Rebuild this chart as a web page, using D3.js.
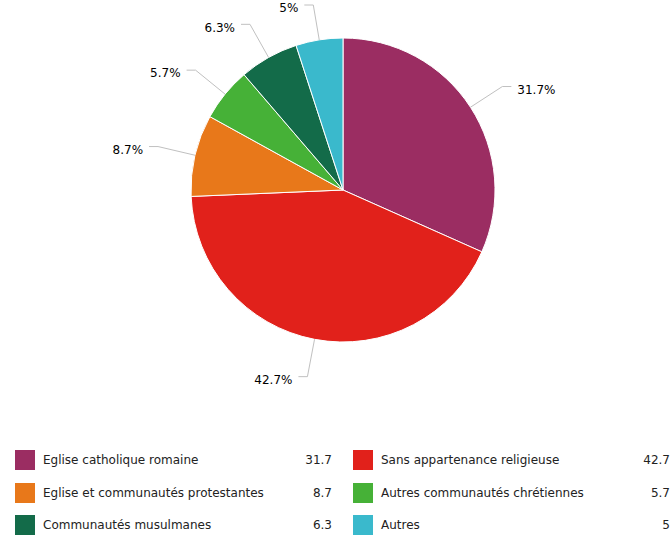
<!DOCTYPE html>
<html>
<head>
<meta charset="utf-8">
<script src="https://cdn.jsdelivr.net/npm/d3@7"></script>
<style>
  body { margin: 0; background: #fff; }
  svg { display: block; font-family: "DejaVu Sans", Verdana, sans-serif; }
</style>
</head>
<body>
<svg id="chart" width="672" height="544"></svg>
<script>
// Data
const categories = [
    "Eglise catholique romaine",
    "Sans appartenance religieuse",
    "Eglise et communautés protestantes",
    "Autres communautés chrétiennes",
    "Communautés musulmanes",
    "Autres"
];
const values = [31.7, 42.7, 8.7, 5.7, 6.3, 5];
const colors = ["#9b2d62", "#e1211b", "#e8781a", "#46b137", "#136b49", "#3ab9cc"];

// Legend order (two columns, row by row)
const legendOrder = [0, 1, 2, 3, 4, 5];

const width = 672;
const cx = 343, cy = 190, radius = 152;

const svg = d3.select("#chart");

// Pie layout: clockwise from 12 o'clock, in data order.
const pie = d3.pie().sort(null).value(d => d.value);
const data = categories.map((c, i) => ({ name: c, value: values[i], color: colors[i] }));
const arcs = pie(data);

const arc = d3.arc().innerRadius(0).outerRadius(radius);

const g = svg.append("g").attr("transform", `translate(${cx},${cy})`);

g.selectAll("path")
    .data(arcs)
    .enter().append("path")
    .attr("d", arc)
    .attr("fill", d => d.data.color)
    .attr("stroke", "#fff")
    .attr("stroke-width", 1)
    .attr("stroke-linejoin", "round");

// Labels with connectors, placed outside the pie.
const labelDist = radius + 38;
arcs.forEach(d => {
    const a = (d.startAngle + d.endAngle) / 2;
    const side = Math.sin(a) >= 0 ? 1 : -1;
    const ex = Math.sin(a) * radius, ey = -Math.cos(a) * radius;
    const ax = Math.sin(a) * labelDist;
    // keep the label inside the top edge of the svg
    const ay = Math.max(-Math.cos(a) * labelDist, -cy + 5);
    const endX = ax + side * 9;

    g.append("path")
        .attr("d", `M${ex},${ey}L${ax},${ay}L${endX},${ay}`)
        .attr("fill", "none")
        .attr("stroke", "#c0c0c0")
        .attr("stroke-width", 1);

    g.append("text")
        .attr("x", ax + side * 15)
        .attr("y", ay)
        .attr("dy", "0.6em")
        .attr("text-anchor", side > 0 ? "start" : "end")
        .style("font-size", "12px")
        .style("fill", "#000")
        .text(`${d.data.value}%`);
});

// Legend
const colX = [15, 353];
const valX = [332, 670];
const rowY = [450, 483, 515];

const legend = svg.append("g");
legendOrder.forEach((idx, k) => {
    const col = k % 2, row = Math.floor(k / 2);
    const item = legend.append("g").attr("transform", `translate(0,${rowY[row]})`);
    item.append("rect")
        .attr("x", colX[col])
        .attr("y", 0)
        .attr("width", 20)
        .attr("height", 20)
        .attr("fill", colors[idx]);
    item.append("text")
        .attr("x", colX[col] + 28)
        .attr("y", 10)
        .attr("dy", "0.35em")
        .style("font-size", "12px")
        .style("fill", "#222")
        .text(categories[idx]);
    item.append("text")
        .attr("x", valX[col])
        .attr("y", 10)
        .attr("dy", "0.35em")
        .attr("text-anchor", "end")
        .style("font-size", "12px")
        .style("fill", "#222")
        .text(values[idx]);
});
</script>
</body>
</html>
